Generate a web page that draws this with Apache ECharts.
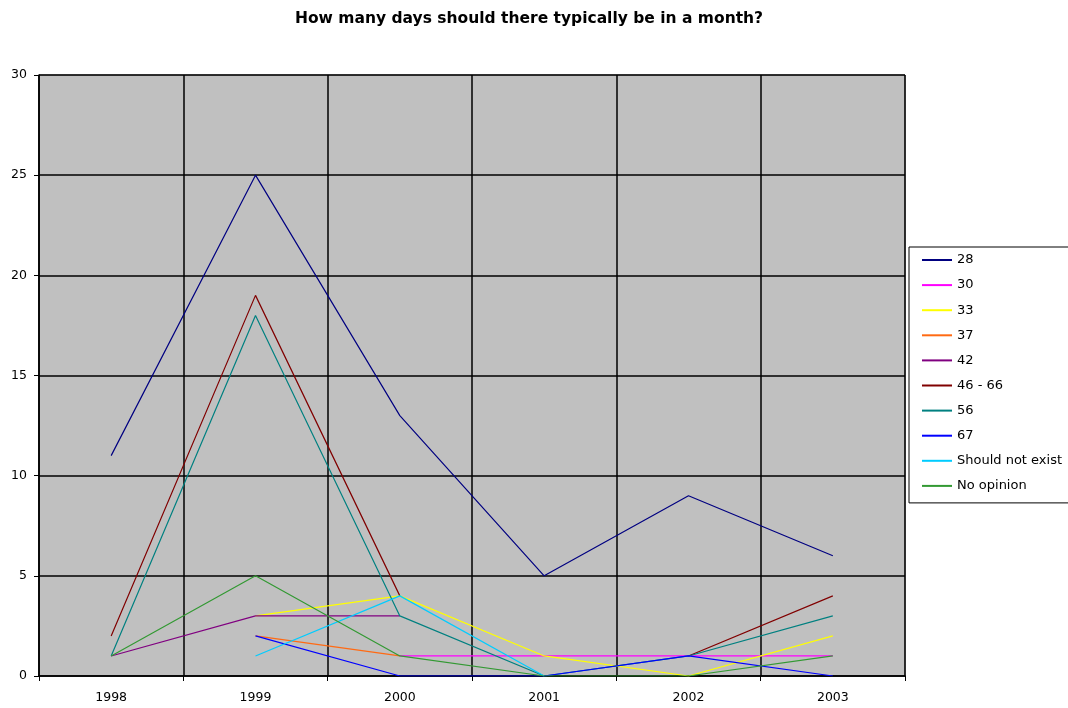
<!DOCTYPE html>
<html>
<head>
<meta charset="utf-8">
<title>How many days should there typically be in a month?</title>
<script src="https://cdn.jsdelivr.net/npm/echarts@6/dist/echarts.min.js"></script>
<style>
  html, body { margin: 0; padding: 0; background: #fff; }
  #chart-panel { width: 1068px; height: 708px; }
</style>
</head>
<body>
<div id="chart-panel"></div>
<script>
var years = ['1998', '1999', '2000', '2001', '2002', '2003'];

// answers per year, null = no answer given that year
var d28 = [11, 25, 13, 5, 9, 6];
var d30 = [null, null, 1, 1, 1, 1];
var d33 = [null, 3, 4, 1, 0, 2];
var d37 = [null, 2, 1, null, null, null];
var d42 = [1, 3, 3, null, null, null];
var d46to66 = [2, 19, 4, null, 1, 4];
var d56 = [1, 18, 3, 0, 1, 3];
var d67 = [null, 2, 0, 0, 1, 0];
var noExist = [null, 1, 4, 0, null, null];
var noOpinion = [1, 5, 1, 0, 0, 1];

var names = ['28', '30', '33', '37', '42', '46 - 66', '56', '67', 'Should not exist', 'No opinion'];
var values = [d28, d30, d33, d37, d42, d46to66, d56, d67, noExist, noOpinion];
var colors = ['#000080', '#ff00ff', '#ffff00', '#ff6a13', '#800080', '#800000', '#008080', '#0000ff', '#00ccff', '#339933'];

var font = 'DejaVu Sans, Verdana, sans-serif';

var series = [];
for (var i = 0; i < names.length; i++) {
    series.push({
        name: names[i],
        type: 'line',
        data: values[i],
        showSymbol: false,
        symbol: 'none',
        connectNulls: false,
        lineStyle: { width: 1.2, color: colors[i] },
        itemStyle: { color: colors[i] }
    });
}

var myChart = echarts.init(document.getElementById('chart-panel'));
myChart.setOption({
    animation: false,
    color: colors,
    title: {
        text: 'How many days should there typically be in a month?',
        left: 290,
        top: 6,
        textStyle: { fontFamily: font, fontSize: 15.5, fontWeight: 'bold', color: '#000' }
    },
    legend: {
        orient: 'vertical',
        left: 909,
        top: 247,
        padding: [6, 30, 10, 13],
        backgroundColor: '#fff',
        borderColor: '#000',
        borderWidth: 1,
        borderRadius: 0,
        icon: 'rect',
        itemWidth: 30,
        itemHeight: 2,
        itemGap: 11.1,
        data: names,
        textStyle: { fontFamily: font, fontSize: 13, lineHeight: 14, color: '#000' }
    },
    grid: {
        left: 39,
        right: 163,
        top: 75,
        bottom: 32,
        show: true,
        backgroundColor: '#c0c0c0',
        borderColor: '#808080',
        borderWidth: 1
    },
    xAxis: {
        type: 'category',
        data: years,
        boundaryGap: true,
        axisLine: { lineStyle: { color: '#000', width: 1.5 } },
        axisTick: { show: true, length: 5, lineStyle: { color: '#000' } },
        axisLabel: { fontFamily: font, fontSize: 12.5, color: '#000', margin: 15 },
        splitLine: { show: true, lineStyle: { color: '#000', width: 1.5 } }
    },
    yAxis: {
        type: 'value',
        min: 0,
        max: 30,
        interval: 5,
        axisLine: { show: true, lineStyle: { color: '#000', width: 1.5 } },
        axisTick: { show: true, length: 5, lineStyle: { color: '#000' } },
        axisLabel: { fontFamily: font, fontSize: 12.5, color: '#000', margin: 12 },
        splitLine: { show: true, lineStyle: { color: '#000', width: 1.5 } }
    },
    series: series
});
</script>
</body>
</html>
